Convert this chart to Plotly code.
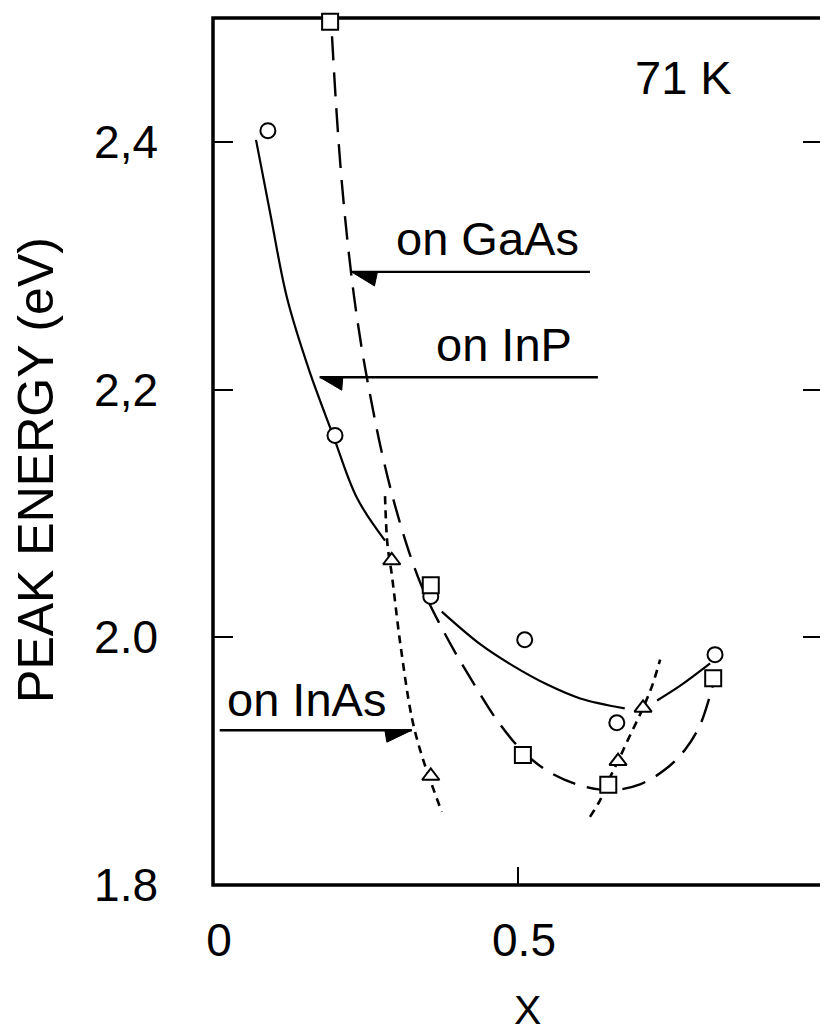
import plotly.graph_objects as go

# ---- data ----
# circles (solid curve, on InP)
circ_x = [0.090, 0.200, 0.357, 0.511, 0.662, 0.823]
circ_y = [2.409, 2.163, 2.033, 1.998, 1.931, 1.986]
# squares (long-dashed curve, on GaAs)
sq_x = [0.192, 0.357, 0.508, 0.648, 0.820]
sq_y = [2.497, 2.042, 1.905, 1.881, 1.967]
# triangles (short-dashed curves, on InAs)
tri_x = [0.293, 0.357, 0.664, 0.705]
tri_y = [2.062, 1.888, 1.900, 1.943]

# hand-drawn guide curves
inp_x = [0.0705, 0.0934, 0.1213, 0.1574, 0.1967, 0.2361, 0.2820, None,
         0.375, 0.438, 0.492, 0.548, 0.602, 0.675, None, 0.728, 0.766, 0.815]
inp_y = [2.4016, 2.3434, 2.2741, 2.2159, 2.1633, 2.1124, 2.0781, None,
         2.0207, 1.9944, 1.9769, 1.9618, 1.9506, 1.9426, None, 1.949, 1.961, 1.979]

gaas_x = [0.1951, 0.2016, 0.2098, 0.2197, 0.2311, 0.2443, 0.2590, 0.2754, 0.2951,
          0.3164, 0.3361, 0.3557, 0.3721, 0.3967, 0.4295, 0.4656, 0.5082, 0.5525,
          0.6016, 0.6508, 0.7000, 0.7410, 0.7738, 0.7984, 0.8148, 0.8213]
gaas_y = [2.4853, 2.4311, 2.3753, 2.3235, 2.2757, 2.2319, 2.1920, 2.1522, 2.1124,
          2.0765, 2.0486, 2.0263, 2.0104, 1.9880, 1.9610, 1.9331, 1.9076, 1.8909,
          1.8805, 1.8765, 1.8813, 1.8932, 1.9092, 1.9291, 1.9530, 1.9649]

inas1_x = [0.282, 0.286, 0.293, 0.307, 0.326, 0.342, 0.358, 0.375]
inas1_y = [2.114, 2.075, 2.051, 1.995, 1.935, 1.905, 1.882, 1.859]
inas2_x = [0.618, 0.634, 0.648, 0.664, 0.680, 0.705, 0.720, 0.733]
inas2_y = [1.855, 1.868, 1.884, 1.900, 1.917, 1.943, 1.961, 1.982]

x_ticks = [0, 0.5, 1]
x_ticktext = ["0", "0.5", "1"]
y_ticks = [1.8, 2.0, 2.2, 2.4]
y_ticktext = ["1.8", "2.0", "2,2", "2,4"]

FONT = "Liberation Sans, Arial, sans-serif"
BLACK = "black"

fig = go.Figure()

fig.add_trace(go.Scatter(x=inp_x, y=inp_y, mode="lines",
                         line=dict(color=BLACK, width=2.2, shape="spline", smoothing=1.0),
                         hoverinfo="skip"))
fig.add_trace(go.Scatter(x=gaas_x, y=gaas_y, mode="lines",
                         line=dict(color=BLACK, width=2.4, dash="24px,12px",
                                   shape="spline", smoothing=1.0),
                         hoverinfo="skip"))
fig.add_trace(go.Scatter(x=inas1_x, y=inas1_y, mode="lines",
                         line=dict(color=BLACK, width=2.6, dash="8px,6px",
                                   shape="spline", smoothing=1.0),
                         hoverinfo="skip"))
fig.add_trace(go.Scatter(x=inas2_x, y=inas2_y, mode="lines",
                         line=dict(color=BLACK, width=2.6, dash="8px,6px",
                                   shape="spline", smoothing=1.0),
                         hoverinfo="skip"))

mk_line = dict(color=BLACK, width=2)
fig.add_trace(go.Scatter(x=circ_x, y=circ_y, mode="markers", cliponaxis=False,
                         marker=dict(symbol="circle", size=15, color="white", line=mk_line)))
fig.add_trace(go.Scatter(x=sq_x, y=sq_y, mode="markers", cliponaxis=False,
                         marker=dict(symbol="square", size=16, color="white", line=mk_line)))
fig.add_trace(go.Scatter(x=tri_x, y=tri_y, mode="markers", cliponaxis=False,
                         marker=dict(symbol="triangle-up", size=15, color="white", line=mk_line)))

# frame
shapes = [dict(type="rect", xref="paper", yref="paper", x0=0, x1=1, y0=0, y1=1,
               line=dict(color=BLACK, width=3.5), layer="below")]

# arrows (line + half barb)
arrows = [
    # (tail_x, tip_x, y, barb path)
    (0.618, 0.227, 2.295, "M0,0L26,0L23,-14Z"),
    (0.631, 0.175, 2.210, "M0,0L23,0L22,-13Z"),
    (0.011, 0.326, 1.925, "M0,0L-27,0L-25,-12Z"),
]
for tail, tip, yy, path in arrows:
    shapes.append(dict(type="line", xref="x", yref="y", x0=tail, x1=tip, y0=yy, y1=yy,
                       line=dict(color=BLACK, width=2.4)))
    shapes.append(dict(type="path", xref="x", yref="y", xsizemode="pixel", ysizemode="pixel",
                       xanchor=tip, yanchor=yy, path=path,
                       fillcolor=BLACK, line=dict(color=BLACK, width=1)))

labels = [
    ("on GaAs", 0.297, 2.322),
    ("on InP", 0.362, 2.236),
    ("on InAs", 0.020, 1.9495),
    ("71 K", 0.688, 2.452),
]
annotations = [dict(text=t, x=x, y=y, xref="x", yref="y", xanchor="left", yanchor="middle",
                    showarrow=False, font=dict(family=FONT, size=47, color=BLACK))
               for t, x, y in labels]

# axis titles
annotations.append(dict(text="PEAK ENERGY (eV)", xref="paper", yref="paper", x=0, y=0.4787,
                        xshift=-177, xanchor="center", yanchor="middle", textangle=-90,
                        showarrow=False, font=dict(family=FONT, size=50, color=BLACK)))
annotations.append(dict(text="X", xref="paper", yref="paper", x=0.5148, y=0,
                        yshift=-125, xanchor="center", yanchor="middle",
                        showarrow=False, font=dict(family=FONT, size=41, color=BLACK)))

fig.update_layout(
    width=828, height=1036,
    margin=dict(l=205, r=13, t=10, b=159),
    paper_bgcolor="white", plot_bgcolor="white",
    showlegend=False,
    shapes=shapes, annotations=annotations,
    font=dict(family=FONT, color=BLACK),
    xaxis=dict(range=[0, 1], tickvals=x_ticks, ticktext=x_ticktext, automargin=False,
               ticks="inside", ticklen=18, tickwidth=2, tickcolor=BLACK,
               showgrid=False, zeroline=False, showline=False,
               tickfont=dict(size=46, family=FONT, color=BLACK),
               ticklabelstandoff=24, ticklabelshift=6),
    yaxis=dict(range=[1.8, 2.5], tickvals=y_ticks, ticktext=y_ticktext, automargin=False,
               ticks="inside", ticklen=20, tickwidth=2, tickcolor=BLACK, mirror="ticks",
               showgrid=False, zeroline=False, showline=False,
               tickfont=dict(size=46, family=FONT, color=BLACK),
               ticklabelstandoff=54),
)

fig.write_html("out.html")
